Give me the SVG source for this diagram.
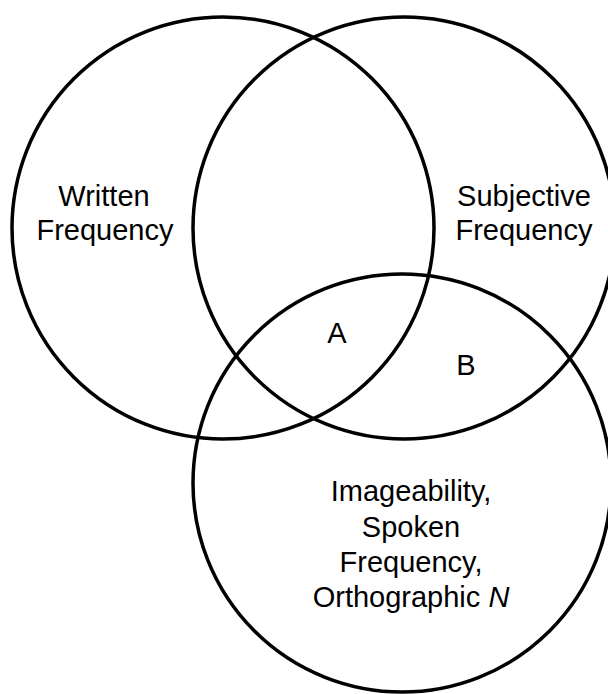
<svg xmlns="http://www.w3.org/2000/svg" width="608" height="694" viewBox="0 0 608 694">
<style>
.set{fill:none;stroke:#000;stroke-width:3.5}
.lbl{font-family:"Liberation Sans",Arial,sans-serif;font-size:29px;fill:#000;text-anchor:middle}
</style>
<rect width="608" height="694" fill="#fff"/>
<g id="written">
<circle class="set" cx="223" cy="228" r="211"/>
<text class="lbl" x="104" y="206">Written</text>
<text class="lbl" x="105" y="240">Frequency</text>
</g>
<g id="subjective">
<circle class="set" cx="404" cy="228" r="211"/>
<text class="lbl" x="524" y="206">Subjective</text>
<text class="lbl" x="524" y="240">Frequency</text>
</g>
<g id="imageability">
<circle class="set" cx="402" cy="483" r="209"/>
<text class="lbl" x="411" y="501">Imageability,</text>
<text class="lbl" x="411" y="537">Spoken</text>
<text class="lbl" x="411" y="572">Frequency,</text>
<text class="lbl" x="411" y="607">Orthographic <tspan font-style="italic">N</tspan></text>
</g>
<g id="regionA"><text class="lbl" x="337" y="343">A</text></g>
<g id="regionB"><text class="lbl" x="466" y="375">B</text></g>
</svg>
